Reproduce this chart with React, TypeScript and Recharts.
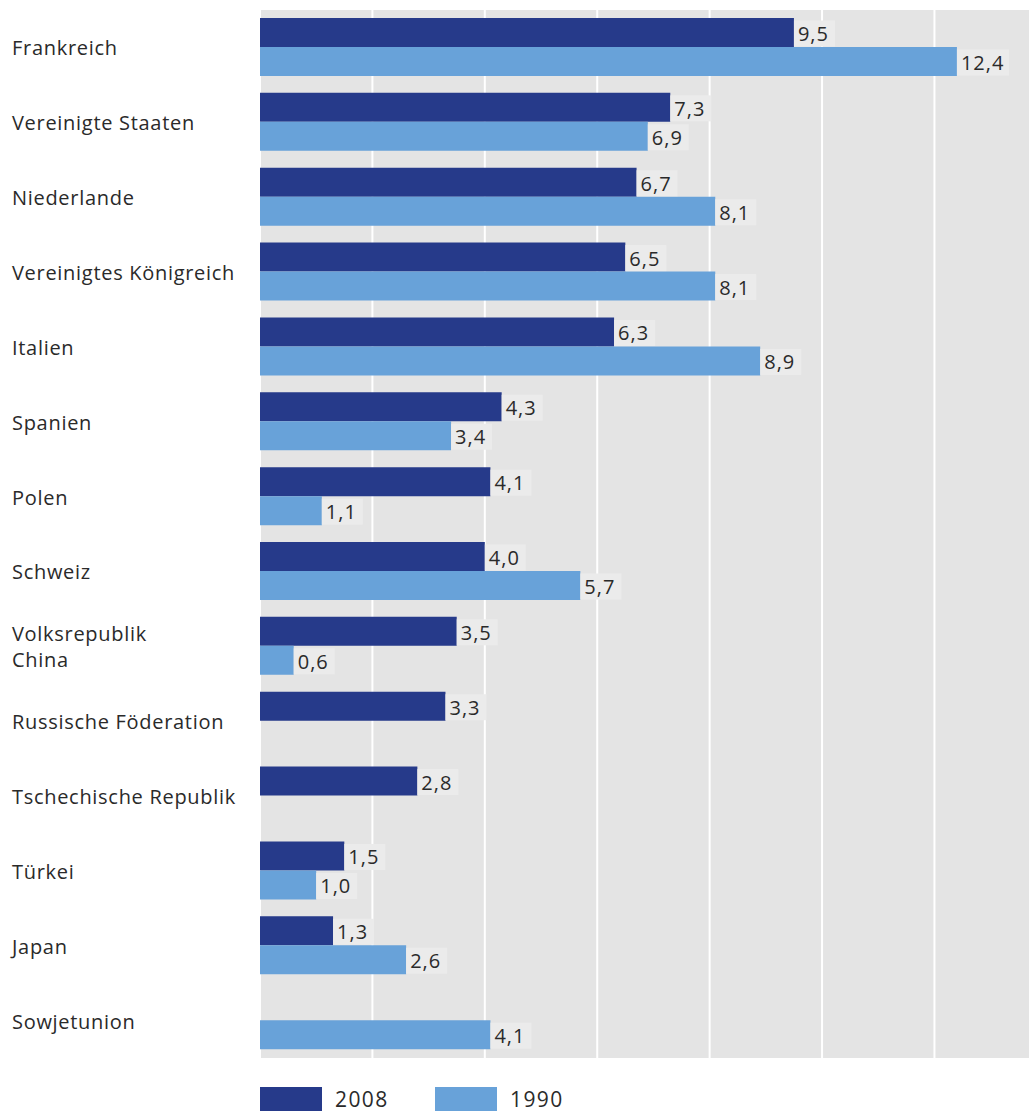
import React from 'react';
import { BarChart, Bar, XAxis, YAxis, CartesianGrid, LabelList, Legend } from 'recharts';

const countries = [
  'Frankreich',
  'Vereinigte Staaten',
  'Niederlande',
  'Vereinigtes Königreich',
  'Italien',
  'Spanien',
  'Polen',
  'Schweiz',
  'Volksrepublik\nChina',
  'Russische Föderation',
  'Tschechische Republik',
  'Türkei',
  'Japan',
  'Sowjetunion',
];

const values2008: (number | null)[] = [9.5, 7.3, 6.7, 6.5, 6.3, 4.3, 4.1, 4.0, 3.5, 3.3, 2.8, 1.5, 1.3, null];
const values1990: (number | null)[] = [12.4, 6.9, 8.1, 8.1, 8.9, 3.4, 1.1, 5.7, 0.6, null, null, 1.0, 2.6, 4.1];

const xTicks = [0, 2, 4, 6, 8, 10, 12];
const seriesNames = ['2008', '1990'];

const DARK = '#263a8a';
const LIGHT = '#68a2d9';
const FONT = '"Open Sans", "Noto Sans", sans-serif';
const TEXT = '#2a2a2a';

const data = countries.map((name, i) => ({ name, v2008: values2008[i], v1990: values1990[i] }));

const CategoryTick = (props: any) => {
  const { y, payload } = props;
  const lines = String(payload.value).split('\n');
  const lineH = 26;
  const startY = y - ((lines.length - 1) * lineH) / 2;
  return (
    <text x={12} y={startY} fill={TEXT} fontFamily={FONT} fontSize={20} fontWeight={500} letterSpacing={0.7} textAnchor="start" dominantBaseline="central">
      {lines.map((l, i) => (
        <tspan key={i} x={12} y={startY + i * lineH} dominantBaseline="central">
          {l}
        </tspan>
      ))}
    </text>
  );
};

const ValueLabel = (props: any) => {
  const { x, y, width, height, value } = props;
  if (value === null || value === undefined) return null;
  const txt = Number(value).toFixed(1).replace('.', ',');
  const tx = x + width + 4;
  const cy = y + height / 2 + 1;
  const w = txt.length * 11 + 8;
  return (
    <g>
      <rect x={x + width} y={cy - 13} width={w} height={26} fill="#ebebeb" />
      <text x={tx} y={cy} fill={TEXT} fontFamily={FONT} fontSize={20} fontWeight={500} letterSpacing={1} dominantBaseline="central">
        {txt}
      </text>
    </g>
  );
};

const LegendContent = () => (
  <div style={{ display: 'flex', alignItems: 'center', height: 26, fontFamily: FONT, fontSize: 21, fontWeight: 500, letterSpacing: 1.4, color: TEXT }}>
    <div style={{ width: 62, height: 24, background: DARK }} />
    <span style={{ marginLeft: 13, width: 100 }}>{seriesNames[0]}</span>
    <div style={{ width: 62, height: 24, background: LIGHT }} />
    <span style={{ marginLeft: 13 }}>{seriesNames[1]}</span>
  </div>
);

export default function App() {
  return (
    <div style={{ position: 'absolute', left: 0, top: 0, width: 1030, height: 1113, overflow: 'hidden', background: '#fff' }}>
      <BarChart
        width={1030}
        height={1113}
        data={data}
        layout="vertical"
        margin={{ top: 10, right: 0, left: 0, bottom: 29 }}
        barGap={0}
        barSize={29}
      >
        <CartesianGrid horizontal={false} vertical={true} fill="#e4e4e4" stroke="#ffffff" strokeWidth={2} fillOpacity={1} />
        <XAxis type="number" domain={[0, 13.7]} ticks={xTicks} hide allowDataOverflow />
        <YAxis
          type="category"
          dataKey="name"
          width={260}
          axisLine={false}
          tickLine={false}
          tick={<CategoryTick />}
          interval={0}
        />
        <Legend
          verticalAlign="bottom"
          content={<LegendContent />}
          wrapperStyle={{ position: 'absolute', left: 260, top: 1086, width: 500, height: 26 }}
        />
        <Bar dataKey="v2008" name={seriesNames[0]} fill={DARK} isAnimationActive={false}>
          <LabelList dataKey="v2008" content={<ValueLabel />} />
        </Bar>
        <Bar dataKey="v1990" name={seriesNames[1]} fill={LIGHT} isAnimationActive={false}>
          <LabelList dataKey="v1990" content={<ValueLabel />} />
        </Bar>
      </BarChart>
    </div>
  );
}
